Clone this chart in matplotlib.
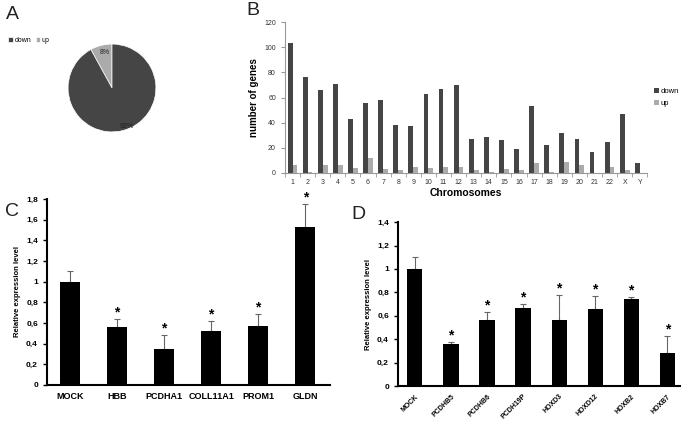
import numpy as np
import matplotlib
matplotlib.use("Agg")
import matplotlib.pyplot as plt

plt.rcParams['font.family'] = ['Liberation Sans', 'DejaVu Sans']

# panel A
pie_labels = ["up", "down"]
pie_values = [8, 92]

# panel B
chromosomes = [str(i) for i in range(1, 23)] + ["X", "Y"]
genes_down = [103, 76, 66, 71, 43, 56, 58, 38, 37, 63, 67, 70,
              27, 29, 26, 19, 53, 22, 32, 27, 17, 25, 47, 8]
genes_up = [6, 0.5, 6, 6, 4, 12, 3, 2, 5, 4, 5, 5,
            2, 0.5, 3, 2, 8, 0.5, 9, 6, 0, 5, 2, 0]

# panel C
genes_c = ["MOCK", "HBB", "PCDHA1", "COLL11A1", "PROM1", "GLDN"]
expr_c = [1.0, 0.56, 0.35, 0.52, 0.57, 1.53]
err_c = [0.10, 0.08, 0.13, 0.10, 0.12, 0.22]
sig_c = [False, True, True, True, True, True]

# panel D
genes_d = ["MOCK", "PCDHB5", "PCDHB6", "PCDH19P", "HOXD3", "HOXD12", "HOXB2", "HOXB7"]
expr_d = [1.0, 0.36, 0.56, 0.67, 0.56, 0.66, 0.74, 0.28]
err_d = [0.10, 0.02, 0.07, 0.03, 0.22, 0.11, 0.02, 0.15]
sig_d = [False, True, True, True, True, True, True, True]

DARK = "#454545"
LIGHT = "#ababab"

fig = plt.figure(figsize=(6.85, 4.24), dpi=100)

# ---- A ----
axA = fig.add_axes([0.083, 0.663, 0.161, 0.259])
wedges, _, autotexts = axA.pie(pie_values, colors=[LIGHT, DARK], startangle=90,
                               counterclock=True, autopct='%d%%', pctdistance=0.75,
                               wedgeprops=dict(edgecolor='white', linewidth=0.5),
                               textprops=dict(fontsize=5, color='#222222'))
autotexts[0].set_position((-0.16, 0.8))
autotexts[1].set_position((0.33, -0.87))
axA.set_aspect('equal')
axA.legend([wedges[1], wedges[0]], ["down", "up"], loc='upper left',
           bbox_to_anchor=(-0.5, 1.02), ncol=2, frameon=False, fontsize=5,
           handlelength=0.7, handleheight=0.7, handletextpad=0.2, columnspacing=0.6)
fig.text(0.008, 0.965, "A", fontsize=14, color='#222222', va='center')

# ---- B ----
axB = fig.add_axes([0.416, 0.592, 0.529, 0.356])
x = np.arange(len(chromosomes))
w = 0.32
axB.bar(x - w / 2, genes_down, w, color=DARK, label="down")
axB.bar(x + w / 2, genes_up, w, color=LIGHT, label="up")
axB.set_xlim(-0.5, len(chromosomes) - 0.5)
axB.set_ylim(0, 120)
axB.set_yticks(range(0, 121, 20))
axB.set_xticks(x)
axB.set_xticklabels(chromosomes)
axB.set_xticks(np.arange(-0.5, len(chromosomes), 1), minor=True)
axB.tick_params(axis='x', which='major', length=0, labelsize=5, pad=4, colors='#333333')
axB.tick_params(axis='x', which='minor', length=3, color='#999999')
axB.tick_params(axis='y', labelsize=5, length=3, color='#999999', colors='#333333')
for s in ['top', 'right']:
    axB.spines[s].set_visible(False)
for s in ['left', 'bottom']:
    axB.spines[s].set_color('#999999')
    axB.spines[s].set_linewidth(0.8)
axB.set_ylabel("number of genes", fontsize=7, fontweight='bold', labelpad=4)
axB.set_xlabel("Chromosomes", fontsize=7.5, fontweight='bold', labelpad=2)
axB.legend(loc='center left', bbox_to_anchor=(1.0, 0.5), frameon=False, fontsize=5.5,
           handlelength=0.6, handleheight=0.6, handletextpad=0.2, labelspacing=0.6)
fig.text(0.36, 0.975, "B", fontsize=14, color='#222222', va='center')


def expr_panel(ax, names, vals, errs, sig, rotate):
    xi = np.arange(len(names))
    ax.bar(xi, vals, 0.42, color='black', zorder=2)
    ax.errorbar(xi, vals, yerr=[np.zeros(len(vals)), errs], fmt='none',
                ecolor='#666666', elinewidth=0.8, capsize=2, capthick=0.8, zorder=1)
    for xv, v, e, s in zip(xi, vals, errs, sig):
        if s:
            ax.text(xv, v + e - 0.005, "*", ha='center', va='bottom',
                    fontsize=10, fontweight='bold')
    for s in ['top', 'right']:
        ax.spines[s].set_visible(False)
    for s in ['left', 'bottom']:
        ax.spines[s].set_linewidth(1.5)
    ax.set_xticks(xi)
    if rotate:
        ax.set_xticklabels(names, rotation=45, ha='right', rotation_mode='anchor',
                           fontsize=5, fontweight='bold')
    else:
        ax.set_xticklabels(names, fontsize=6.5, fontweight='bold')
    ax.tick_params(axis='x', length=0, pad=5)
    ax.tick_params(axis='y', length=3, width=1, labelsize=6)
    for lab in ax.get_yticklabels():
        lab.set_fontweight('bold')
    ax.set_ylabel("Relative expression level", fontsize=5.5, fontweight='bold')


def comma(v):
    s = ("%.1f" % v).rstrip('0').rstrip('.')
    return s.replace('.', ',')


# ---- C ----
axC = fig.add_axes([0.0686, 0.092, 0.4134, 0.439])
axC.set_ylim(0, 1.8)
ticksC = np.round(np.arange(0, 1.81, 0.2), 1)
axC.set_yticks(ticksC)
axC.set_yticklabels([comma(t) for t in ticksC])
expr_panel(axC, genes_c, expr_c, err_c, sig_c, False)
axC.set_xlim(-0.49, 5.53)
fig.text(0.008, 0.5, "C", fontsize=14, color='#222222', va='center')

# ---- D ----
axD = fig.add_axes([0.581, 0.0896, 0.412, 0.3864])
axD.set_ylim(0, 1.4)
ticksD = np.round(np.arange(0, 1.41, 0.2), 1)
axD.set_yticks(ticksD)
axD.set_yticklabels([comma(t) for t in ticksD])
expr_panel(axD, genes_d, expr_d, err_d, sig_d, True)
axD.set_xlim(-0.47, 7.36)
fig.text(0.513, 0.495, "D", fontsize=14, color='#222222', va='center')

fig.savefig("out.png", dpi=100)
